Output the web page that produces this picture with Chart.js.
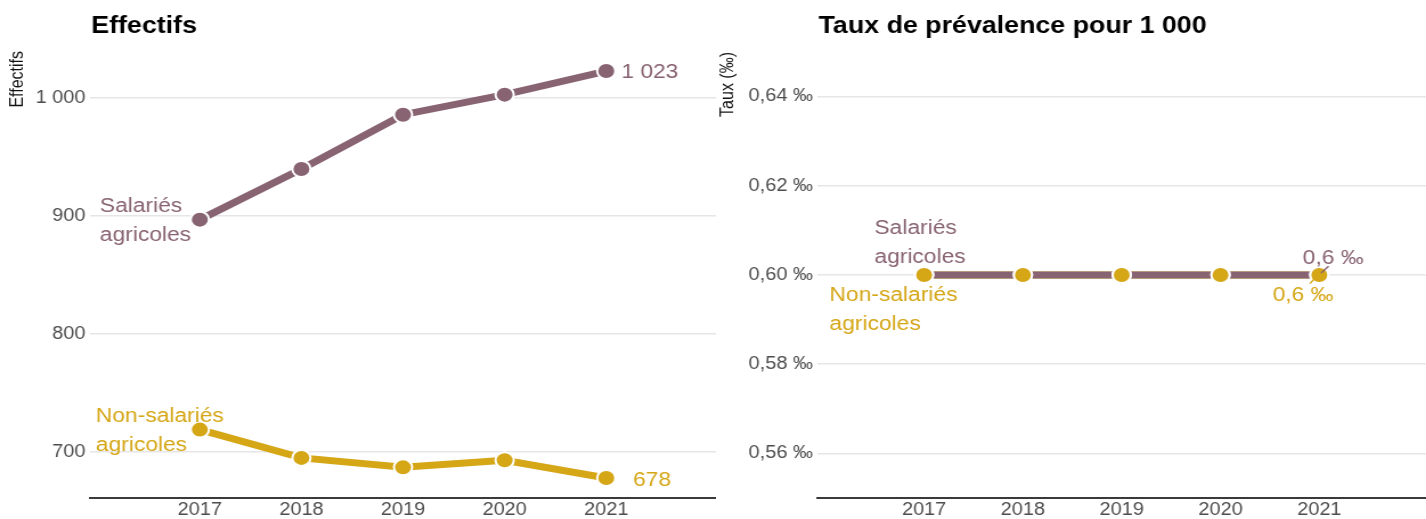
<!DOCTYPE html>
<html lang="fr">
<head>
<meta charset="utf-8">
<title>Effectifs et taux de prévalence</title>
<script src="https://cdn.jsdelivr.net/npm/chart.js@4/dist/chart.umd.min.js"></script>
<style>
  html, body { margin: 0; padding: 0; background: #fff; overflow: hidden; }
  #wrap { position: relative; width: 1426px; height: 519px; }
  .panel { position: absolute; top: 0; height: 519px; transform-origin: 0 0; }
</style>
</head>
<body>
<div id="wrap">
  <div class="panel" id="pL"><canvas id="cL"></canvas></div>
  <div class="panel" id="pR"><canvas id="cR"></canvas></div>
</div>
<script>
// ---- data ----
const years = [2017, 2018, 2019, 2020, 2021];
const effectifsSalaries = [897, 940, 986, 1003, 1023];
const effectifsNonSalaries = [719, 695, 687, 693, 678];
const tauxSalaries = [0.6, 0.6, 0.6, 0.6, 0.6];
const tauxNonSalaries = [0.6, 0.6, 0.6, 0.6, 0.6];
const effectifsTicks = [700, 800, 900, 1000];
const tauxTicks = [0.56, 0.58, 0.60, 0.62, 0.64];
const nameSalaries = ['Salariés', 'agricoles'];
const nameNonSalaries = ['Non-salariés', 'agricoles'];

// ---- style ----
const MAUVE = '#886372';
const GOLD = '#d5a616';
const FONT = '"Liberation Sans", Arial, Helvetica, sans-serif';
const STRETCH = 1.14;             // panels are drawn slightly widened
const H = 519;
const LEFT_W = 716, RIGHT_W = 710; // on-screen widths of the two panels

const fmtThousands = v => Math.round(v).toString().replace(/\B(?=(\d{3})+(?!\d))/g, ' ');
const fmtTaux = v => v.toFixed(2).replace('.', ',') + ' \u2030';
const fmtTauxLabel = v => String(v).replace('.', ',') + ' \u2030';

// Titles, axis caption, series names and end-of-line values
const decor = {
  id: 'decor',
  afterDatasetsDraw(chart, args, opts) {
    const ctx = chart.ctx, area = chart.chartArea;
    const xs = chart.scales.x, ys = chart.scales.y;
    ctx.save();
    // panel title
    ctx.font = 'bold 23.5px ' + FONT;
    ctx.fillStyle = '#000';
    ctx.textAlign = 'left';
    ctx.textBaseline = 'alphabetic';
    ctx.fillText(opts.title, area.left + opts.titleDx, 33);
    // rotated axis caption
    ctx.save();
    ctx.translate(opts.yTitleX, area.top);
    ctx.rotate(-Math.PI / 2);
    ctx.font = '16px ' + FONT;
    ctx.fillStyle = '#111';
    ctx.textAlign = 'right';
    ctx.textBaseline = 'middle';
    ctx.fillText(opts.yTitle, 0, 0);
    ctx.restore();
    // text labels anchored to data points
    ctx.font = '20px ' + FONT;
    ctx.textAlign = 'left';
    ctx.textBaseline = 'alphabetic';
    for (const l of opts.labels) {
      const px = xs.getPixelForValue(l.x), py = ys.getPixelForValue(l.y);
      ctx.fillStyle = l.color;
      l.lines.forEach((t, i) => ctx.fillText(t, px + l.dx, py + l.dy[i]));
      if (l.leader) {
        ctx.strokeStyle = l.color;
        ctx.lineWidth = 1.4;
        ctx.beginPath();
        ctx.moveTo(px + l.leader[0], py + l.leader[1]);
        ctx.lineTo(px + l.leader[2], py + l.leader[3]);
        ctx.stroke();
      }
    }
    ctx.restore();
  }
};

function baseOptions(yMin, yMax, yTicks, yFmt, yWidth, topPad) {
  return {
    responsive: false,
    animation: false,
    devicePixelRatio: 1,
    layout: { autoPadding: false, padding: { top: topPad, right: 0, bottom: 0, left: 0 } },
    plugins: { legend: { display: false }, tooltip: { enabled: false }, title: { display: false } },
    scales: {
      x: {
        type: 'linear',
        min: 2015.92, max: 2022.08,
        afterBuildTicks: s => { s.ticks = years.map(v => ({ value: v })); },
        afterFit: s => { s.height = 21; },
        grid: { display: false, drawTicks: false },
        border: { display: true, color: '#3a3a3a', width: 2 },
        ticks: { callback: v => String(v), color: '#4d4d4d', padding: 2, font: { family: FONT, size: 17.5 } }
      },
      y: {
        type: 'linear',
        min: yMin, max: yMax,
        afterBuildTicks: s => { s.ticks = yTicks.map(v => ({ value: v })); },
        afterFit: s => { s.width = yWidth; },
        grid: { color: '#e6e6e6', lineWidth: 1.5, drawTicks: false },
        border: { display: false },
        ticks: { callback: yFmt, color: '#4d4d4d', padding: 4, font: { family: FONT, size: 17.5 } }
      }
    }
  };
}

function lineDataset(label, values, color, extra) {
  return Object.assign({
    label,
    data: years.map((y, i) => ({ x: y, y: values[i] })),
    borderColor: color,
    backgroundColor: color,
    borderWidth: 7,
    tension: 0,
    pointRadius: 8,
    pointBorderWidth: 2,
    pointBorderColor: '#fff',
    pointBackgroundColor: color,
    clip: false
  }, extra || {});
}

function setupPanel(panelId, canvasId, screenW, left) {
  const w = Math.round(screenW / STRETCH);
  const p = document.getElementById(panelId);
  p.style.left = left + 'px';
  p.style.width = w + 'px';
  p.style.transform = 'scaleX(' + (screenW / w) + ')';
  const c = document.getElementById(canvasId);
  c.width = w; c.height = H;
  c.style.width = w + 'px'; c.style.height = H + 'px';
  return c;
}

// ---- Effectifs ----
const cL = setupPanel('pL', 'cL', LEFT_W, 0);
const optL = baseOptions(661, 1040, effectifsTicks, v => fmtThousands(v), Math.round(90 / STRETCH), 51);
optL.plugins.decor = {
  title: 'Effectifs', titleDx: 1, yTitle: 'Effectifs', yTitleX: 16,
  labels: [
    { lines: nameSalaries, color: MAUVE, x: years[0], y: effectifsSalaries[0], dx: -87.7, dy: [-8, 21] },
    { lines: nameNonSalaries, color: GOLD, x: years[0], y: effectifsNonSalaries[0], dx: -91.2, dy: [-8, 21.5] },
    { lines: [fmtThousands(effectifsSalaries[4])], color: MAUVE, x: years[4], y: effectifsSalaries[4], dx: 13.2, dy: [7.3] },
    { lines: [fmtThousands(effectifsNonSalaries[4])], color: GOLD, x: years[4], y: effectifsNonSalaries[4], dx: 23.4, dy: [7.7] }
  ]
};
new Chart(cL, {
  type: 'line',
  data: {
    datasets: [
      lineDataset('Salariés agricoles', effectifsSalaries, MAUVE),
      lineDataset('Non-salariés agricoles', effectifsNonSalaries, GOLD)
    ]
  },
  options: optL,
  plugins: [decor]
});

// ---- Taux de prévalence ----
const cR = setupPanel('pR', 'cR', RIGHT_W, LEFT_W);
const optR = baseOptions(0.55, 0.65, tauxTicks, v => fmtTaux(v), Math.round(101 / STRETCH), 52);
optR.plugins.decor = {
  title: 'Taux de prévalence pour 1 000', titleDx: 1, yTitle: 'Taux (\u2030)', yTitleX: 10.3,
  labels: [
    { lines: nameSalaries, color: MAUVE, x: years[0], y: tauxSalaries[0], dx: -43.6, dy: [-41.4, -12] },
    { lines: nameNonSalaries, color: GOLD, x: years[0], y: tauxNonSalaries[0], dx: -83, dy: [26, 55.3] },
    { lines: [fmtTauxLabel(tauxSalaries[4])], color: MAUVE, x: years[4], y: tauxSalaries[4], dx: -14.6, dy: [-11.4], leader: [1.5, -2, 8.2, -8.7] },
    { lines: [fmtTauxLabel(tauxNonSalaries[4])], color: GOLD, x: years[4], y: tauxNonSalaries[4], dx: -41, dy: [26], leader: [-8.2, 8.6, -3.5, 2.6] }
  ]
};
new Chart(cR, {
  type: 'line',
  data: {
    datasets: [
      // gold line underneath, mauve line over it, gold markers on top
      lineDataset('Non-salariés agricoles', tauxNonSalaries, GOLD, { order: 3, pointRadius: 0 }),
      lineDataset('Salariés agricoles', tauxSalaries, MAUVE, { order: 2 }),
      lineDataset('Non-salariés agricoles (points)', tauxNonSalaries, GOLD, { order: 1, showLine: false })
    ]
  },
  options: optR,
  plugins: [decor]
});
</script>
</body>
</html>
